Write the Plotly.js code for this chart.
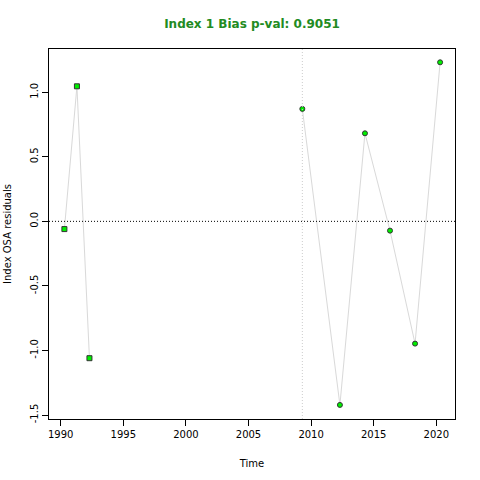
<!DOCTYPE html>
<html>
<head>
<meta charset="utf-8">
<script src="https://cdn.plot.ly/plotly-3.0.1.min.js"></script>
<style>html,body{margin:0;padding:0;background:#fff;}#chart{width:480px;height:480px;}</style>
</head>
<body>
<div id="chart"></div>
<script>
const years = [1990.3, 1991.3, 1992.3, 2009.3, 2012.3, 2014.3, 2016.3, 2018.3, 2020.3];
const residuals = [-0.06, 1.046, -1.06, 0.871, -1.422, 0.682, -0.072, -0.947, 1.232];
const markerSymbols = ["square", "square", "square", "circle", "circle", "circle", "circle", "circle", "circle"];
const segmentIds = [0, 0, 0, 1, 1, 1, 1, 1, 1];
const peelYear = 2009.3;
const xTickVals = [1990, 1995, 2000, 2005, 2010, 2015, 2020];
const yTickVals = [-1.5, -1.0, -0.5, 0.0, 0.5, 1.0];
const yTickText = ["-1.5", "-1.0", "-0.5", "0.0", "0.5", "1.0"];

const font = "DejaVu Sans, sans-serif";
const traces = [];
[0, 1].forEach(seg => {
  const idx = years.map((_, i) => i).filter(i => segmentIds[i] === seg);
  traces.push({x: idx.map(i => years[i]), y: idx.map(i => residuals[i]), type: "scatter", mode: "lines",
    line: {color: "#d9d9d9", width: 1}, hoverinfo: "skip", showlegend: false});
});
traces.push({x: years, y: residuals, type: "scatter", mode: "markers",
  marker: {symbol: markerSymbols, size: 5, color: "#00f000", line: {color: "#333", width: 1}},
  showlegend: false});

const layout = {
  width: 480, height: 480,
  margin: {l: 49, r: 25, t: 49, b: 61},
  paper_bgcolor: "#fff", plot_bgcolor: "#fff",
  font: {family: font, size: 10, color: "#000"},
  title: {text: "<b>Index 1 Bias p-val: 0.9051</b>", font: {family: font, size: 12, color: "#228b22"},
          x: 0.5, xref: "paper", y: 0.95, yanchor: "middle"},
  xaxis: {range: [1989.07, 2021.49], tickvals: xTickVals, ticks: "outside", ticklen: 6, tickcolor: "#000",
          showgrid: false, zeroline: false, showline: true, linecolor: "#000", linewidth: 1.3, mirror: true,
          tickfont: {family: font, size: 10},
          title: {text: "Time", font: {family: font, size: 10}, standoff: 20}},
  yaxis: {range: [-1.531, 1.335], tickvals: yTickVals, ticktext: yTickText, tickangle: -90,
          ticks: "outside", ticklen: 6, tickcolor: "#000",
          showgrid: false, zeroline: false, showline: true, linecolor: "#000", linewidth: 1.3, mirror: true,
          tickfont: {family: font, size: 10},
          title: {text: "Index OSA residuals", font: {family: font, size: 10}, standoff: 15}},
  shapes: [
    {type: "line", xref: "paper", x0: 0, x1: 1, yref: "y", y0: 0, y1: 0,
     line: {color: "#000", width: 1, dash: "1px,2px"}},
    {type: "line", xref: "x", x0: peelYear, x1: peelYear, yref: "paper", y0: 0, y1: 1,
     line: {color: "#cccccc", width: 1, dash: "1px,2px"}}
  ]
};
Plotly.newPlot("chart", traces, layout, {displayModeBar: false, staticPlot: true});
</script>
</body>
</html>
